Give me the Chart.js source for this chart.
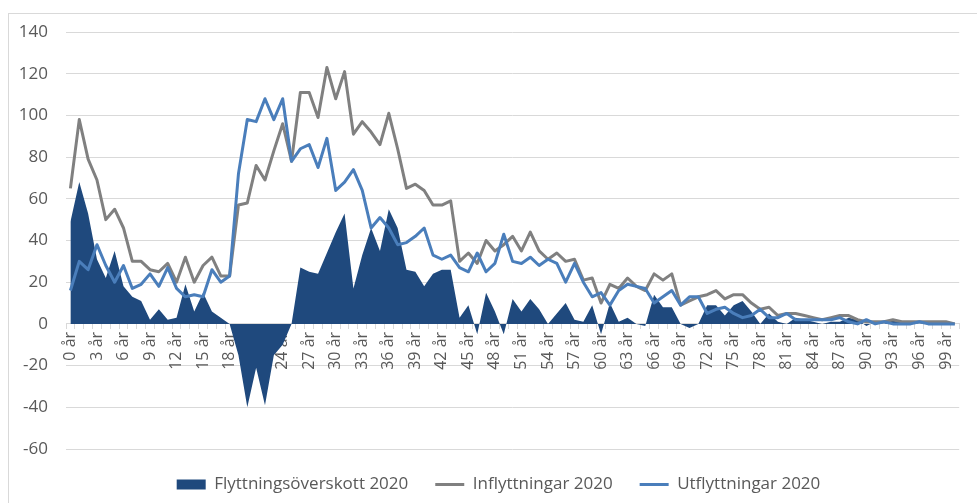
<!DOCTYPE html>
<html>
<head>
<meta charset="utf-8">
<script src="https://cdn.jsdelivr.net/npm/chart.js@4.4.0/dist/chart.umd.min.js"></script>
<style>
  html, body { margin: 0; padding: 0; background: #fff; overflow: hidden; }
  #frame { position: absolute; left: 8px; top: 13px; width: 1000px; height: 600px; border: 1px solid #d9d9d9; }
  #wrap { position: absolute; left: 0; top: 0; width: 977px; height: 503px; }
</style>
</head>
<body>
<div id="frame"></div>
<div id="wrap"><canvas id="chart"></canvas></div>
<script>
// age categories
const ages = ['0 år','1 år','2 år','3 år','4 år','5 år','6 år','7 år','8 år','9 år',
  '10 år','11 år','12 år','13 år','14 år','15 år','16 år','17 år','18 år','19 år',
  '20 år','21 år','22 år','23 år','24 år','25 år','26 år','27 år','28 år','29 år',
  '30 år','31 år','32 år','33 år','34 år','35 år','36 år','37 år','38 år','39 år',
  '40 år','41 år','42 år','43 år','44 år','45 år','46 år','47 år','48 år','49 år',
  '50 år','51 år','52 år','53 år','54 år','55 år','56 år','57 år','58 år','59 år',
  '60 år','61 år','62 år','63 år','64 år','65 år','66 år','67 år','68 år','69 år',
  '70 år','71 år','72 år','73 år','74 år','75 år','76 år','77 år','78 år','79 år',
  '80 år','81 år','82 år','83 år','84 år','85 år','86 år','87 år','88 år','89 år',
  '90 år','91 år','92 år','93 år','94 år','95 år','96 år','97 år','98 år','99 år',
  '100 år'];

const overskott = [49, 68, 53, 31, 22, 35, 18, 13, 11, 2,
  7, 2, 3, 19, 6, 15, 6, 3, 0, -15,
  -40, -21, -39, -15, -10, 0, 27, 25, 24, 34,
  44, 53, 17, 33, 46, 35, 55, 46, 26, 25,
  18, 24, 26, 26, 3, 9, -5, 15, 6, -5,
  12, 6, 12, 7, 0, 5, 10, 2, 1, 9,
  -5, 10, 1, 3, 0, -1, 14, 8, 8, 0,
  -2, 0, 9, 9, 4, 9, 11, 6, 0, 5,
  1, 0, 3, 2, 1, 0, 1, 1, 3, 2,
  -1, 1, 0, 2, 1, 1, 0, 1, 1, 1,
  0];

const inflyttningar = [65, 98, 79, 69, 50, 55, 46, 30, 30, 26,
  25, 29, 20, 32, 20, 28, 32, 23, 23, 57,
  58, 76, 69, 83, 96, 78, 111, 111, 99, 123,
  108, 121, 91, 97, 92, 86, 101, 84, 65, 67,
  64, 57, 57, 59, 30, 34, 29, 40, 35, 38,
  42, 35, 44, 35, 31, 34, 30, 31, 21, 22,
  10, 19, 17, 22, 18, 16, 24, 21, 24, 9,
  11, 13, 14, 16, 12, 14, 14, 10, 7, 8,
  4, 5, 5, 4, 3, 2, 3, 4, 4, 2,
  1, 1, 1, 2, 1, 1, 1, 1, 1, 1,
  0];

const utflyttningar = [16, 30, 26, 38, 28, 20, 28, 17, 19, 24,
  18, 27, 17, 13, 14, 13, 26, 20, 23, 72,
  98, 97, 108, 98, 108, 78, 84, 86, 75, 89,
  64, 68, 74, 64, 46, 51, 46, 38, 39, 42,
  46, 33, 31, 33, 27, 25, 34, 25, 29, 43,
  30, 29, 32, 28, 31, 29, 20, 29, 20, 13,
  15, 9, 16, 19, 18, 17, 10, 13, 16, 9,
  13, 13, 5, 7, 8, 5, 3, 4, 7, 3,
  3, 5, 2, 2, 2, 2, 2, 3, 1, 0,
  2, 0, 1, 0, 0, 0, 1, 0, 0, 0,
  0];

const yTicks = { min: -60, max: 140, step: 20 };

const fontFamily = '"Open Sans", "Noto Sans", sans-serif';
const textColor = '#595959';
const gridColor = '#d9d9d9';

// nudge the legend a little to the right, like the original
const legendShift = {
    id: 'legendShift',
    afterLayout(chart) {
        if (chart.legend) {
            chart.legend.left += 7;
            chart.legend.right += 7;
        }
    }
};

const ctx = document.getElementById('chart').getContext('2d');
new Chart(ctx, {
    type: 'line',
    data: {
        labels: ages,
        datasets: [{
            label: 'Flyttningsöverskott 2020',
            data: overskott,
            fill: 'origin',
            backgroundColor: '#1f497d',
            borderColor: '#1f497d',
            borderWidth: 0,
            pointRadius: 0,
            pointStyle: 'rect',
            tension: 0,
            order: 3
        }, {
            label: 'Inflyttningar 2020',
            data: inflyttningar,
            fill: false,
            borderColor: '#808080',
            backgroundColor: '#808080',
            borderWidth: 3,
            borderJoinStyle: 'round',
            pointRadius: 0,
            pointStyle: 'line',
            tension: 0,
            order: 2
        }, {
            label: 'Utflyttningar 2020',
            data: utflyttningar,
            fill: false,
            borderColor: '#4a7ebb',
            backgroundColor: '#4a7ebb',
            borderWidth: 3,
            borderJoinStyle: 'round',
            pointRadius: 0,
            pointStyle: 'line',
            tension: 0,
            order: 1
        }]
    },
    options: {
        responsive: true,
        maintainAspectRatio: false,
        animation: false,
        events: [],
        layout: {
            padding: { left: 8, right: 2, top: 32, bottom: 0 }
        },
        scales: {
            x: {
                position: { y: 0 },
                offset: true,
                grid: {
                    offset: true,
                    drawOnChartArea: false,
                    drawTicks: true,
                    tickLength: 5,
                    color: gridColor
                },
                border: { color: gridColor },
                ticks: {
                    autoSkip: false,
                    minRotation: 90,
                    maxRotation: 90,
                    padding: 3,
                    color: textColor,
                    font: { family: fontFamily, size: 16 },
                    callback: function(value, index) {
                        return index % 3 === 0 ? ages[index] : '';
                    }
                }
            },
            y: {
                min: yTicks.min,
                max: yTicks.max,
                afterFit: function(scale) { scale.width = 58; },
                grid: { color: gridColor, drawTicks: false },
                border: { display: false },
                ticks: {
                    stepSize: yTicks.step,
                    padding: 18,
                    color: textColor,
                    font: { family: fontFamily, size: 17 }
                }
            }
        },
        plugins: {
            legend: {
                position: 'bottom',
                labels: {
                    usePointStyle: true,
                    pointStyleWidth: 29,
                    boxHeight: 10,
                    padding: 27,
                    color: textColor,
                    font: { family: fontFamily, size: 17 },
                    sort: (a, b) => a.datasetIndex - b.datasetIndex
                }
            },
            tooltip: { enabled: false }
        }
    },
    plugins: [legendShift]
});
</script>
</body>
</html>
